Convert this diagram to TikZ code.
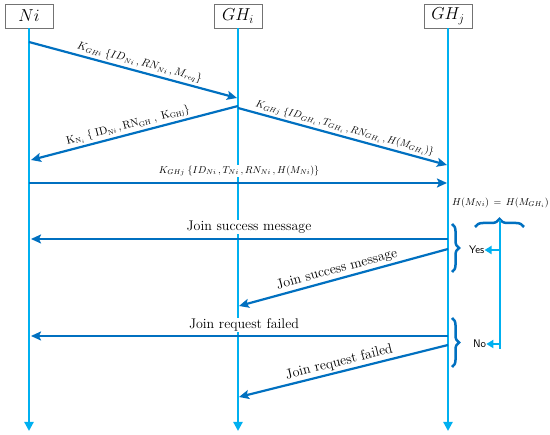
\documentclass[tikz,border=0pt]{standalone}
\usetikzlibrary{arrows.meta,decorations.pathreplacing}
\definecolor{life}{RGB}{0,176,240}
\definecolor{msg}{RGB}{0,112,192}
\begin{document}
\begin{tikzpicture}[x=1pt,y=-1pt,
 hdr/.style={draw=black!55, line width=0.8pt, fill=white, minimum width=48pt, minimum height=24pt, inner sep=0pt, font=\fontsize{17}{19}\selectfont},
 lifeline/.style={draw=life, line width=2.2pt, -{Triangle[length=9pt,width=9pt]}},
 msgline/.style={draw=msg, line width=2.2pt, -{Stealth[length=10pt,width=9pt,inset=2pt]}},
 mlab/.style={font=\fontsize{10.5}{12}\selectfont, inner sep=2pt, sloped, above},
 jlab/.style={font=\fontsize{14}{16}\selectfont, inner sep=2pt},
 hlab/.style={fill=white, inner sep=1pt},
 brc/.style={draw=msg, line width=2.5pt, decorate, decoration={brace, amplitude=7pt}},
 yn/.style={font=\sffamily\fontsize{11}{13}\selectfont, anchor=west, inner sep=0pt},
 side/.style={draw=life, line width=2pt},
 sidearr/.style={draw=life, line width=2pt, -{Triangle[length=7pt,width=8pt]}}
]
\useasboundingbox (0,0) rectangle (550,435);

% headers
\node[hdr] (ni) at (29,16) {$Ni$};
\node[hdr] (ghi) at (238,16) {$GH_i$};
\node[hdr] (ghj) at (448,16) {$GH_j$};

% lifeline ends
\coordinate (niend) at (29,431);
\coordinate (ghiend) at (238,431);
\coordinate (ghjend) at (448,431);

\draw[lifeline] (ni.south) -- (niend);
\draw[lifeline] (ghi.south) -- (ghiend);
\draw[lifeline] (ghj.south) -- (ghjend);

% message end points
\coordinate (n1) at (29,42);
\coordinate (gi1) at (237,98);
\coordinate (gi2) at (238,106);
\coordinate (n2) at (31,160);
\coordinate (gi3) at (238,108);
\coordinate (gj3) at (447,165);
\coordinate (n4) at (29,183);
\coordinate (gj4) at (447,183);
\coordinate (gj5) at (448,239);
\coordinate (n5) at (31,239);
\coordinate (gj6) at (448,249);
\coordinate (gi6) at (239,306);
\coordinate (gj7) at (448,336);
\coordinate (n7) at (31,336);
\coordinate (gj8) at (448,345);
\coordinate (gi8) at (239,397);

% messages
\draw[msgline] (n1) -- node[mlab, pos=0.52]{$K_{GHi}\;\{ID_{Ni}\,,RN_{Ni}\,,M_{req}\}$} (gi1);
\draw[msgline] (gi2) -- node[mlab, pos=0.52]{$\mathrm{K}_{\mathrm{N}_i}\;\{\;\mathrm{ID}_{\mathrm{N}i}\,,\mathrm{RN}_{\mathrm{GH}}\;,\;\mathrm{K}_{\mathrm{GHj}}\}$} (n2);
\draw[msgline] (gi3) -- node[mlab, pos=0.5, font=\fontsize{9.8}{12}\selectfont]{$K_{GHj}\;\{ID_{GH_i}\,,T_{GH_i}\,,RN_{GH_i}\,,H(M_{GH_i})\}$} (gj3);
\draw[msgline] (n4) -- (gj4);
\node[hlab, font=\fontsize{10}{12}\selectfont] (l4) at (239,171) {$K_{GHj}\;\{ID_{Ni}\,,T_{Ni}\,,RN_{Ni}\,,H(M_{Ni})\}$};

\draw[msgline] (gj5) -- (n5);
\node[jlab, hlab] (l5) at (249,227) {Join success message};
\draw[msgline] (gj6) -- node[jlab, sloped, above, pos=0.52]{Join success message} (gi6);
\draw[msgline] (gj7) -- (n7);
\node[jlab, hlab] (l7) at (244,325) {Join request failed};
\draw[msgline] (gj8) -- node[jlab, sloped, above, pos=0.51]{Join request failed} (gi8);

% condition
\node[font=\fontsize{10}{12}\selectfont, anchor=east, inner sep=0pt] (cond) at (549,203) {$H(M_{Ni})\,=\,H(M_{GH_i})$};

\draw[brc] (452,224) -- (452,272);
\draw[brc] (452,318) -- (452,367);
\draw[brc, decoration={brace, amplitude=8pt}] (475,227) -- (524,227);

\node[yn] (yes) at (469,250) {Yes};
\node[yn] (no) at (473,344) {No};

\coordinate (top) at (499.5,220);
\coordinate (bot) at (499.5,349);
\coordinate (ya) at (499.5,250);
\coordinate (na) at (499.5,344);
\draw[side] (top) -- (bot);
\draw[sidearr] (ya) -- (yes.east);
\draw[sidearr] (na) -- (no.east);
\end{tikzpicture}
\end{document}
